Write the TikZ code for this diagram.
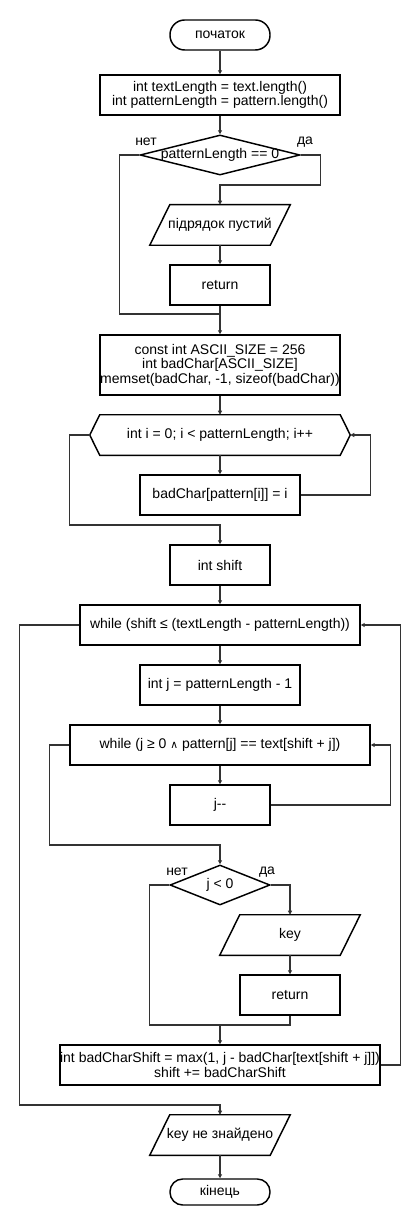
\documentclass[tikz,border=0pt]{standalone}
\usepackage{fontspec}
\setmainfont{Liberation Sans}
\newfontfamily\dvfont{DejaVu Sans}
\usetikzlibrary{arrows.meta,shapes.geometric}
\newcommand\zl[1]{\makebox[0pt]{#1}}
\begin{document}
\begin{tikzpicture}[x=0.75pt,y=-0.75pt,
  every node/.style={font=\fontsize{10.5pt}{10.8pt}\selectfont, inner sep=0pt},
  shp/.style={draw=black, line width=1.1pt},
  proc/.style={shp, rectangle, minimum height=30pt, align=center},
  term/.style={shp, rectangle, minimum width=75pt},
  dec/.style={shp, diamond, minimum height=30pt},
  io/.style={rectangle, minimum width=90pt, minimum height=30pt},
  conn/.style={draw=black!80, line width=0.9pt},
  arr/.style={conn, -{Triangle[length=3pt,width=3pt]}},
  lbl/.style={font=\fontsize{10.5pt}{10.8pt}\selectfont}
]
\useasboundingbox (0,0) rectangle (420,1230);

% nodes
\node[term, minimum height=22.5pt, rounded corners=11pt] (st) at (220,35) {початок};
\node[proc, minimum width=180pt] (b1) at (220,95) {\zl{int textLength = text.length()}\\\zl{int patternLength = pattern.length()}};
\node[dec, minimum width=120pt] (d1) at (220,155) {\zl{patternLength == 0}};
\node[lbl] (d1no) at (146,142) {нет};
\node[lbl] (d1yes) at (305,142) {да};
\node[io] (p1) at (220,225) {підрядок пустий};
\draw[shp] ([xshift=7.5pt]p1.north west) -- ([xshift=7.5pt]p1.north east) -- ([xshift=-7.5pt]p1.south east) -- ([xshift=-7.5pt]p1.south west) -- cycle;
\node[proc, minimum width=75pt] (r1) at (220,285) {return};
\coordinate (m1) at (220,314);
\node[proc, minimum width=180pt, minimum height=45pt] (b2) at (220,365) {\zl{const int ASCII\_SIZE = 256}\\\zl{int badChar[ASCII\_SIZE]}\\\zl{memset(badChar, -1, sizeof(badChar))}};
\node[rectangle, minimum width=180pt, minimum height=30pt] (hex) at (220,435) {\zl{int i = 0; i < patternLength; i++}};
\coordinate (hexE) at ([xshift=7.5pt]hex.east);
\coordinate (hexW) at ([xshift=-7.5pt]hex.west);
\draw[shp] (hex.north west) -- (hex.north east) -- (hexE) -- (hex.south east) -- (hex.south west) -- (hexW) -- cycle;
\node[proc, minimum width=120pt] (bc) at (220,495) {\zl{badChar[pattern[i]] = i}};
\node[proc, minimum width=75pt] (is) at (220,565) {int shift};
\node[proc, minimum width=210pt] (w1) at (220,625) {\zl{while (shift ≤ (textLength - patternLength))}};
\node[proc, minimum width=120pt] (ij) at (220,685) {\zl{int j = patternLength - 1}};
\node[proc, minimum width=225pt] (w2) at (220,745) {\zl{while (j ≥ 0 {\dvfont\fontsize{8pt}{8pt}\selectfont ∧} pattern[j] == text[shift + j])}};
\node[proc, minimum width=75pt] (jm) at (220,805) {j-{}-};
\node[dec, minimum width=75pt] (d2) at (220,885) {\zl{j < 0}};
\node[lbl] (d2no) at (177,872) {нет};
\node[lbl] (d2yes) at (267,872) {да};
\node[io] (key) at (290,935) {key};
\draw[shp] ([xshift=7.5pt]key.north west) -- ([xshift=7.5pt]key.north east) -- ([xshift=-7.5pt]key.south east) -- ([xshift=-7.5pt]key.south west) -- cycle;
\node[proc, minimum width=75pt] (r2) at (290,995) {return};
\coordinate (m2) at (220,1025);
\node[proc, minimum width=240pt] (bcs) at (220,1065) {\zl{int badCharShift = max(1, j - badChar[text[shift + j]])}\\\zl{shift += badCharShift}};
\node[io] (p2) at (220,1135) {\zl{key не знайдено}};
\draw[shp] ([xshift=7.5pt]p2.north west) -- ([xshift=7.5pt]p2.north east) -- ([xshift=-7.5pt]p2.south east) -- ([xshift=-7.5pt]p2.south west) -- cycle;
\node[term, minimum height=19.5pt, rounded corners=9.5pt] (en) at (220,1192) {кінець};

% connectors
\draw[arr] (st) -- (b1);
\draw[arr] (b1) -- (d1);
\draw[conn] (d1.west) -- ++(-20,0) |- (m1);
\draw[arr] (d1.east) -- ++(20,0) -- ++(0,30) -| (p1.north);
\draw[arr] (p1) -- (r1);
\draw[conn] (r1) -- (m1);
\draw[arr] (m1) -- (b2);
\draw[arr] (b2) -- (hex);
\draw[arr] (hex) -- (bc);
\draw[arr] (bc.east) -- ++(70,0) |- (hexE);
\draw[arr] (hexW) -- ++(-20,0) -- ++(0,90) -| (is.north);
\draw[arr] (is) -- (w1);
\draw[arr] (w1) -- (ij);
\draw[arr] (ij) -- (w2);
\draw[arr] (w2) -- (jm);
\draw[arr] (jm.east) -- ++(120,0) |- (w2.east);
\draw[arr] (w2.west) -- ++(-20,0) -- ++(0,100) -| (d2.north);
\draw[arr] (d2.east) -| (key.north);
\draw[arr] (key) -- (r2);
\draw[conn] (d2.west) -- ++(-20,0) |- (r2.south |- m2) -- (r2.south);
\draw[arr] (m2) -- (bcs);
\draw[arr] (bcs.east) -- ++(20,0) |- (w1.east);
\draw[arr] (w1.west) -- ++(-60,0) -- ++(0,480) -| (p2.north);
\draw[arr] (p2) -- (en);
\end{tikzpicture}
\end{document}
